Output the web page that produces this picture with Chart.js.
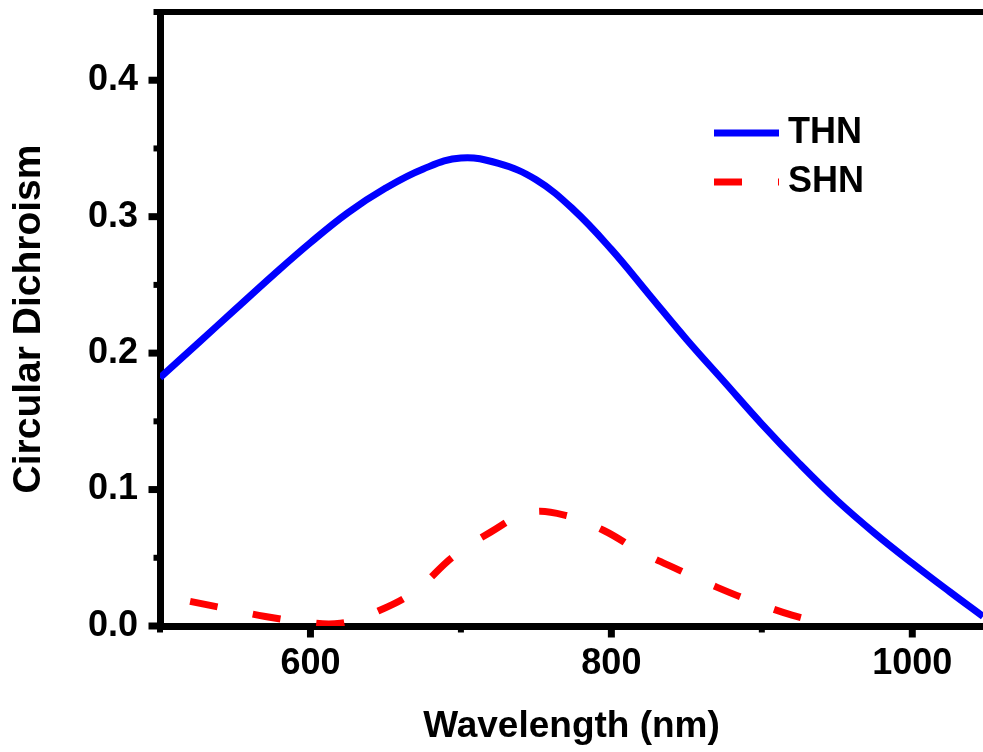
<!DOCTYPE html>
<html>
<head>
<meta charset="utf-8">
<script src="https://cdn.jsdelivr.net/npm/chart.js@4/dist/chart.umd.min.js"></script>
<style>
  body { margin: 0; background: #fff; }
  #wrap { width: 983px; height: 752px; }
</style>
</head>
<body>
<div id="wrap"><canvas id="cd" width="983" height="752"></canvas></div>
<script>
const thnWavelength = [500, 525, 550, 575, 600, 625, 650, 675, 700, 725, 750, 775, 800, 825, 850, 875, 900, 925, 950, 975, 1000, 1025, 1047];
const thnCD = [0.182, 0.207, 0.232, 0.257, 0.281, 0.303, 0.321, 0.335, 0.343, 0.339, 0.327, 0.305, 0.276, 0.243, 0.210, 0.179, 0.148, 0.119, 0.092, 0.068, 0.046, 0.025, 0.007];
const shnWavelength = [520, 545, 570, 595, 620, 645, 670, 695, 720, 745, 770, 795, 820, 845, 870, 895, 920, 945];
const shnCD = [0.018, 0.0125, 0.007, 0.003, 0.002, 0.011, 0.026, 0.051, 0.069, 0.083, 0.081, 0.070, 0.054, 0.041, 0.0285, 0.0175, 0.008, 0.001];
const seriesNames = ["THN", "SHN"];
const xLabelTicks = [600, 800, 1000];

const font = "'Liberation Sans', Arial, sans-serif";
const axisW = 7;

function pts(xs, ys) {
    return xs.map((x, i) => ({ x: x, y: ys[i] }));
}

function noPad(s) {
    s.paddingTop = 0;
    s.paddingBottom = 0;
    s.paddingLeft = 0;
    s.paddingRight = 0;
}

// minor/major tick marks, top frame line and inset legend
const decor = {
    id: 'decor',
    afterDraw(chart) {
        const ctx = chart.ctx;
        const a = chart.chartArea;
        const xs = chart.scales.x, ys = chart.scales.y;
        ctx.save();
        ctx.strokeStyle = '#000';
        ctx.lineCap = 'butt';
        // top line
        ctx.lineWidth = 6;
        ctx.beginPath();
        ctx.moveTo(a.left - axisW / 2, a.top);
        ctx.lineTo(chart.width, a.top);
        ctx.stroke();
        // x ticks
        xs.ticks.forEach(t => {
            const major = t.value % 200 === 0;
            const px = xs.getPixelForValue(t.value);
            ctx.lineWidth = major ? 7 : 6;
            ctx.beginPath();
            ctx.moveTo(px, a.bottom);
            ctx.lineTo(px, a.bottom + (major ? 11.5 : 6.5));
            ctx.stroke();
        });
        // y ticks
        ys.ticks.forEach(t => {
            const major = Math.abs(Math.round(t.value * 10) - t.value * 10) < 1e-6;
            const py = ys.getPixelForValue(t.value);
            ctx.lineWidth = major ? 7 : 6;
            ctx.beginPath();
            ctx.moveTo(a.left, py);
            ctx.lineTo(a.left - (major ? 11.5 : 6.5), py);
            ctx.stroke();
        });
        // legend
        chart.data.datasets.forEach((ds, i) => {
            const y = 133 + i * 49;
            ctx.strokeStyle = ds.borderColor;
            ctx.lineWidth = ds.borderWidth;
            ctx.setLineDash(ds.borderDash || []);
            ctx.beginPath();
            ctx.moveTo(714, y);
            ctx.lineTo(779, y);
            ctx.stroke();
            ctx.setLineDash([]);
            ctx.fillStyle = '#000';
            ctx.font = 'bold 36px ' + font;
            ctx.textBaseline = 'alphabetic';
            ctx.textAlign = 'left';
            ctx.fillText(ds.label, 788, y + 10);
        });
        ctx.restore();
    }
};

new Chart(document.getElementById('cd').getContext('2d'), {
    type: 'line',
    data: {
        datasets: [{
            label: seriesNames[0],
            data: pts(thnWavelength, thnCD),
            borderColor: '#0000ff',
            borderWidth: 7,
            pointRadius: 0,
            tension: 0.4,
            fill: false
        }, {
            label: seriesNames[1],
            data: pts(shnWavelength, shnCD),
            borderColor: '#ff0000',
            borderWidth: 7,
            borderDash: [28, 36],
            borderCapStyle: 'butt',
            pointRadius: 0,
            tension: 0.4,
            fill: false
        }]
    },
    options: {
        responsive: false,
        animation: false,
        layout: { padding: { top: 12, right: 0, left: 0, bottom: 0 } },
        plugins: { legend: { display: false }, tooltip: { enabled: false } },
        scales: {
            x: {
                type: 'linear',
                min: 500,
                max: 1047,
                afterBuildTicks: s => { s.ticks = s.ticks.filter(t => t.value % 100 === 0); },
                afterFit: s => { s.height = 126; noPad(s); },
                grid: { display: true, drawOnChartArea: false, drawTicks: false, lineWidth: axisW },
                border: { display: true, width: axisW, color: '#000' },
                ticks: {
                    stepSize: 100,
                    includeBounds: false,
                    autoSkip: false,
                    maxRotation: 0,
                    padding: 16,
                    color: '#000',
                    font: { family: font, size: 36, weight: 'bold' },
                    callback: v => xLabelTicks.includes(v) ? String(v) : ''
                },
                title: {
                    display: true,
                    text: 'Wavelength (nm)',
                    color: '#000',
                    padding: { top: 0, bottom: 3 },
                    font: { family: font, size: 37, weight: 'bold' }
                }
            },
            y: {
                min: 0,
                max: 0.45,
                afterBuildTicks: s => { s.ticks = s.ticks.filter(t => Math.abs(Math.round(t.value * 20) - t.value * 20) < 1e-6); },
                afterFit: s => { s.width = 160; noPad(s); },
                grid: { display: true, drawOnChartArea: false, drawTicks: false, lineWidth: axisW },
                border: { display: true, width: axisW, color: '#000' },
                ticks: {
                    stepSize: 0.05,
                    includeBounds: false,
                    autoSkip: false,
                    padding: 22,
                    color: '#000',
                    font: { family: font, size: 36, weight: 'bold' },
                    callback: v => Math.abs(Math.round(v * 10) - v * 10) < 1e-6 ? v.toFixed(1) : ''
                },
                title: {
                    display: true,
                    text: 'Circular Dichroism',
                    color: '#000',
                    padding: { top: 6, bottom: 0 },
                    font: { family: font, size: 39, weight: 'bold' }
                }
            }
        }
    },
    plugins: [decor]
});
</script>
</body>
</html>
